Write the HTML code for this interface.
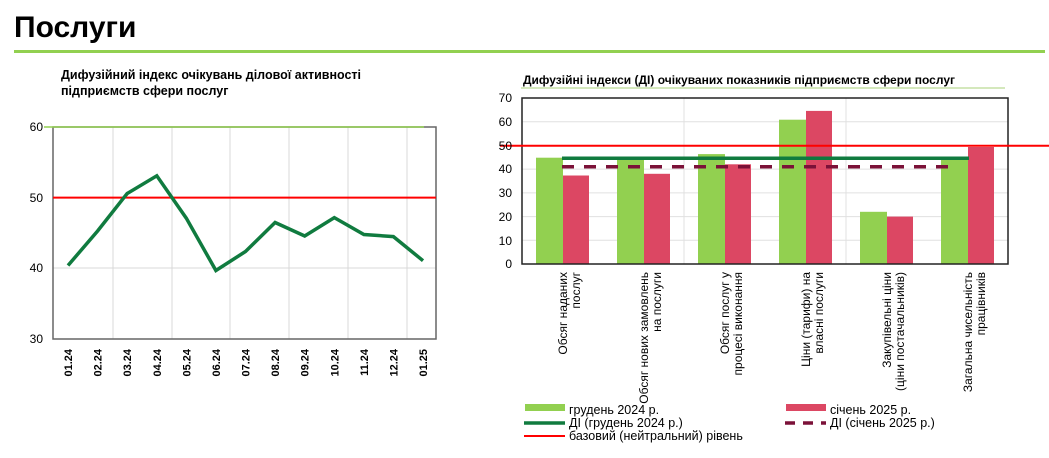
<!DOCTYPE html>
<html><head><meta charset="utf-8"><style>
body{margin:0;width:1049px;height:453px;background:#fff;overflow:hidden;font-family:"Liberation Sans",sans-serif}
</style></head><body>
<svg width="1049" height="453" xmlns="http://www.w3.org/2000/svg" font-family="Liberation Sans, sans-serif">
<text x="14" y="37" font-size="30" font-weight="bold" fill="#000">Послуги</text>
<rect x="14" y="50" width="1031" height="3" fill="#92d050"/>
<text x="61" y="79" font-size="12.5" font-weight="bold">Дифузійний індекс очікувань ділової активності</text>
<text x="61" y="95" font-size="12.5" font-weight="bold">підприємств сфери послуг</text>
<!-- left chart -->
<g stroke="#d9d9d9" stroke-width="1">
<line x1="113" y1="127" x2="113" y2="339"/><line x1="172" y1="127" x2="172" y2="339"/><line x1="230" y1="127" x2="230" y2="339"/><line x1="289" y1="127" x2="289" y2="339"/><line x1="348" y1="127" x2="348" y2="339"/><line x1="407" y1="127" x2="407" y2="339"/>
<line x1="53" y1="268" x2="436" y2="268"/>
</g>
<rect x="53" y="127" width="383" height="212" fill="none" stroke="#666" stroke-width="1.5"/>
<line x1="44" y1="127" x2="424" y2="127" stroke="#92d050" stroke-width="1.5"/>
<line x1="53" y1="197.6" x2="436" y2="197.6" stroke="#ff0000" stroke-width="2"/>
<g font-size="12" fill="#000" text-anchor="end"><text x="43" y="131">60</text><text x="43" y="202">50</text><text x="43" y="272">40</text><text x="43" y="343">30</text></g>
<polyline fill="none" stroke="#107b3f" stroke-width="3.5" stroke-linejoin="miter" points="68,265.5 97.6,231 127.2,193.5 156.8,175.8 186.3,218.2 215.9,270.5 245.5,251.5 275.1,222.5 304.7,236 334.3,217.6 363.9,234.5 393.4,236.6 423,260.7"/>
<g font-size="11" font-weight="bold" text-anchor="end">
<text transform="translate(72,349) rotate(-90)">01.24</text><text transform="translate(101.6,349) rotate(-90)">02.24</text><text transform="translate(131.2,349) rotate(-90)">03.24</text><text transform="translate(160.8,349) rotate(-90)">04.24</text><text transform="translate(190.3,349) rotate(-90)">05.24</text><text transform="translate(219.9,349) rotate(-90)">06.24</text><text transform="translate(249.5,349) rotate(-90)">07.24</text><text transform="translate(279.1,349) rotate(-90)">08.24</text><text transform="translate(308.7,349) rotate(-90)">09.24</text><text transform="translate(338.3,349) rotate(-90)">10.24</text><text transform="translate(367.9,349) rotate(-90)">11.24</text><text transform="translate(397.4,349) rotate(-90)">12.24</text><text transform="translate(427,349) rotate(-90)">01.25</text>
</g>
<!-- right chart -->
<text x="523" y="84" font-size="12" font-weight="bold">Дифузійні індекси (ДІ) очікуваних показників підприємств сфери послуг</text>
<line x1="521" y1="88" x2="1005" y2="88" stroke="#c5e0a5" stroke-width="1.5"/>
<g stroke="#e0e0e0" stroke-width="1">
<line x1="522" y1="121.7" x2="1008" y2="121.7"/><line x1="522" y1="169.1" x2="1008" y2="169.1"/><line x1="522" y1="192.9" x2="1008" y2="192.9"/><line x1="522" y1="216.6" x2="1008" y2="216.6"/><line x1="522" y1="240.3" x2="1008" y2="240.3"/>
<line x1="684" y1="98" x2="684" y2="264"/><line x1="846" y1="98" x2="846" y2="264"/>
</g>
<g fill="#92d050">
<rect x="536" y="157.7" width="27" height="106.3"/><rect x="617" y="157.2" width="27" height="106.8"/><rect x="698" y="154.1" width="27" height="109.9"/><rect x="779" y="119.7" width="27" height="144.3"/><rect x="860" y="211.8" width="27" height="52.2"/><rect x="941" y="157.9" width="27" height="106.1"/>
</g>
<g fill="#dc4763">
<rect x="563" y="175.5" width="26" height="88.5"/><rect x="644" y="173.8" width="26" height="90.2"/><rect x="725" y="164.3" width="26" height="99.7"/><rect x="806" y="110.9" width="26" height="153.1"/><rect x="887" y="216.6" width="26" height="47.4"/><rect x="968" y="147" width="26" height="117"/>
</g>
<rect x="522" y="98" width="486" height="166" fill="none" stroke="#222" stroke-width="1.5"/>
<line x1="500" y1="145.7" x2="1049" y2="145.7" stroke="#ff0000" stroke-width="2"/>
<line x1="562" y1="158.3" x2="969" y2="158.3" stroke="#107b3f" stroke-width="3.5"/>
<line x1="562" y1="166.7" x2="956" y2="166.7" stroke="#7b1138" stroke-width="3.5" stroke-dasharray="12,10"/>
<g font-size="12" text-anchor="end"><text x="512" y="102">70</text><text x="512" y="126">60</text><text x="512" y="150">50</text><text x="512" y="173">40</text><text x="512" y="197">30</text><text x="512" y="221">20</text><text x="512" y="245">10</text><text x="512" y="268">0</text></g>
<g font-size="12" text-anchor="end">
<text transform="translate(567,272) rotate(-90)">Обсяг наданих</text><text transform="translate(580,272) rotate(-90)">послуг</text>
<text transform="translate(648,272) rotate(-90)">Обсяг нових замовлень</text><text transform="translate(661,272) rotate(-90)">на послуги</text>
<text transform="translate(729,272) rotate(-90)">Обсяг послуг у</text><text transform="translate(742,272) rotate(-90)">процесі виконання</text>
<text transform="translate(810,272) rotate(-90)">Ціни (тарифи) на</text><text transform="translate(823,272) rotate(-90)">власні послуги</text>
<text transform="translate(891,272) rotate(-90)">Закупівельні ціни</text><text transform="translate(904,272) rotate(-90)">(ціни постачальників)</text>
<text transform="translate(972,272) rotate(-90)">Загальна чисельність</text><text transform="translate(985,272) rotate(-90)">працівників</text>
</g>
<rect x="525" y="404" width="40" height="7" fill="#92d050"/>
<text x="569" y="414" font-size="12.5">грудень 2024 р.</text>
<rect x="786" y="404" width="40" height="7" fill="#dc4763"/>
<text x="830" y="414" font-size="12.5">січень 2025 р.</text>
<line x1="524" y1="423" x2="565" y2="423" stroke="#107b3f" stroke-width="3.5"/>
<text x="569" y="427" font-size="12.5">ДІ (грудень 2024 р.)</text>
<line x1="785" y1="423" x2="826" y2="423" stroke="#7b1138" stroke-width="3.5" stroke-dasharray="10,8"/>
<text x="830" y="427" font-size="12.5">ДІ (січень 2025 р.)</text>
<line x1="524" y1="436" x2="565" y2="436" stroke="#ff0000" stroke-width="2"/>
<text x="569" y="440" font-size="12.5">базовий (нейтральний) рівень</text>
</svg>
</body></html>
